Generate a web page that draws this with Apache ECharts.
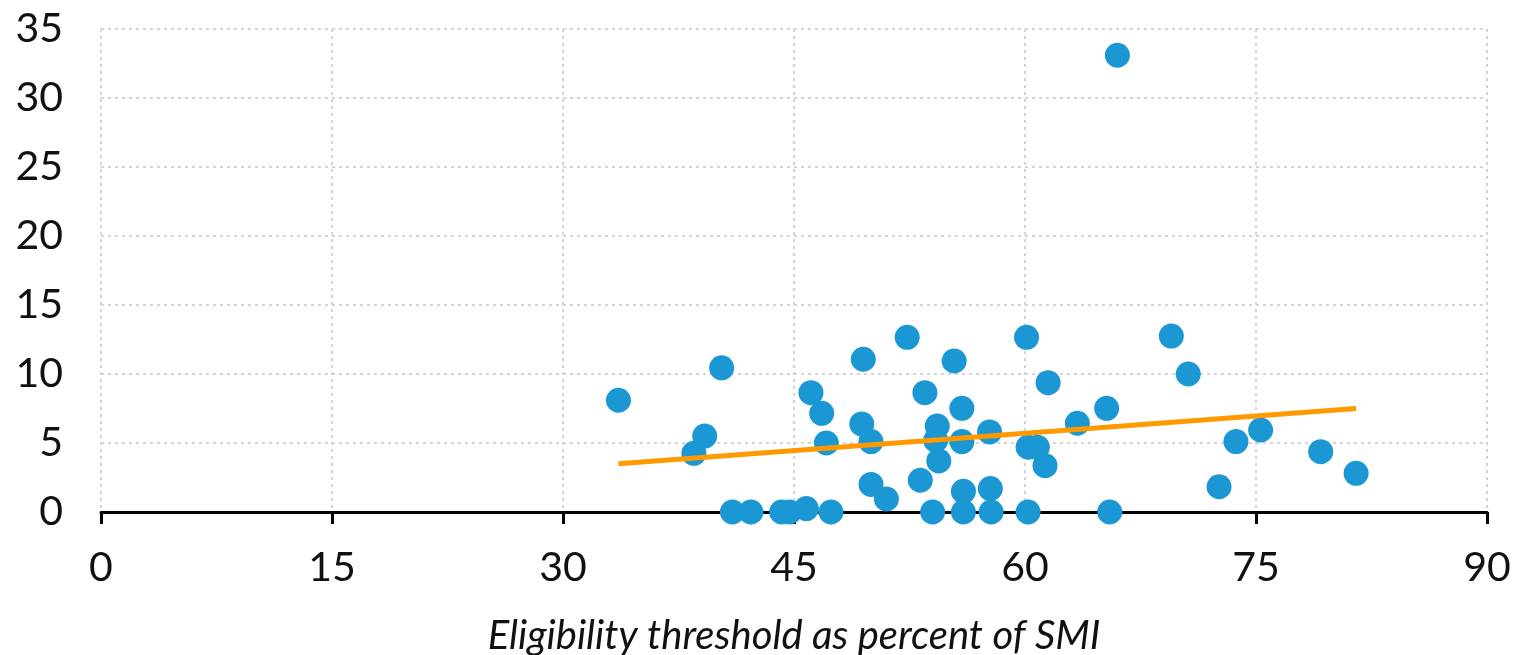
<!DOCTYPE html>
<html>
<head>
<meta charset="utf-8">
<script src="https://cdn.jsdelivr.net/npm/echarts@6/dist/echarts.min.js"></script>
<style>
  html, body { margin: 0; padding: 0; background: #fff; }
  #main { width: 1515px; height: 655px; }
</style>
</head>
<body>
<div id="main"></div>
<script>
// 数据：横轴为资格门槛（占SMI百分比），纵轴为取值
var xVals = [33.6, 38.5, 39.2, 40.3, 41.0, 42.2, 44.2, 44.7, 45.8, 47.4,
             46.1, 46.8, 47.1, 49.5, 49.4, 50.0, 50.0, 51.0, 52.35, 55.4,
             53.5, 55.9, 54.3, 54.2, 55.9, 54.4, 53.2, 57.7, 56.0, 57.75,
             54.0, 56.0, 57.8, 60.2, 65.5, 60.1, 61.5, 65.3, 63.4, 60.2,
             60.8, 61.3, 69.5, 70.6, 73.7, 75.3, 72.6, 79.2, 81.5, 66.0];
var yVals = [8.1, 4.25, 5.5, 10.45, 0, 0, 0, 0, 0.25, 0,
             8.65, 7.15, 5.0, 11.07, 6.38, 5.1, 2.0, 0.94, 12.66, 10.94,
             8.65, 7.51, 6.23, 5.2, 5.1, 3.7, 2.3, 5.8, 1.5, 1.7,
             0, 0, 0, 0, 0, 12.66, 9.37, 7.51, 6.43, 4.7,
             4.7, 3.36, 12.75, 10.0, 5.1, 5.94, 1.83, 4.37, 2.8, 33.1];
// 趋势线两端
var trendX = [33.6, 81.5];
var trendY = [3.5, 7.5];
var xTitle = 'Eligibility threshold as percent of SMI';

var points = [];
for (var i = 0; i < xVals.length; i++) {
    points.push([xVals[i], yVals[i]]);
}
var trend = [];
for (var j = 0; j < trendX.length; j++) {
    trend.push([trendX[j], trendY[j]]);
}

var myChart = echarts.init(document.getElementById('main'));

var gridLine = { show: true, lineStyle: { color: '#d4d4d4', width: 2, type: [3, 4] } };

var option = {
    animation: false,
    textStyle: { fontFamily: 'Lato' },
    grid: { left: 101, right: 28, top: 29, bottom: 143, outerBoundsMode: 'none' },
    xAxis: {
        type: 'value',
        min: 0, max: 90, interval: 15,
        axisLine: { lineStyle: { color: '#000', width: 3 } },
        axisTick: { show: true, length: 12, lineStyle: { color: '#000', width: 3 } },
        axisLabel: { color: '#111', fontSize: 41, margin: 35 },
        splitLine: gridLine,
        name: xTitle,
        nameLocation: 'middle',
        nameGap: 104,
        nameTextStyle: { fontSize: 40, fontStyle: 'italic', color: '#111' }
    },
    yAxis: {
        type: 'value',
        min: 0, max: 35, interval: 5,
        axisLine: { show: false },
        axisTick: { show: false },
        axisLabel: { color: '#111', fontSize: 41, margin: 38 },
        splitLine: gridLine
    },
    series: [{
        type: 'scatter',
        data: points,
        symbolSize: 25,
        itemStyle: { color: '#1b98d3', opacity: 1 },
        z: 2
    }, {
        type: 'line',
        data: trend,
        showSymbol: false,
        lineStyle: { color: '#ff9900', width: 5 },
        z: 3
    }]
};

myChart.setOption(option);
</script>
</body>
</html>
